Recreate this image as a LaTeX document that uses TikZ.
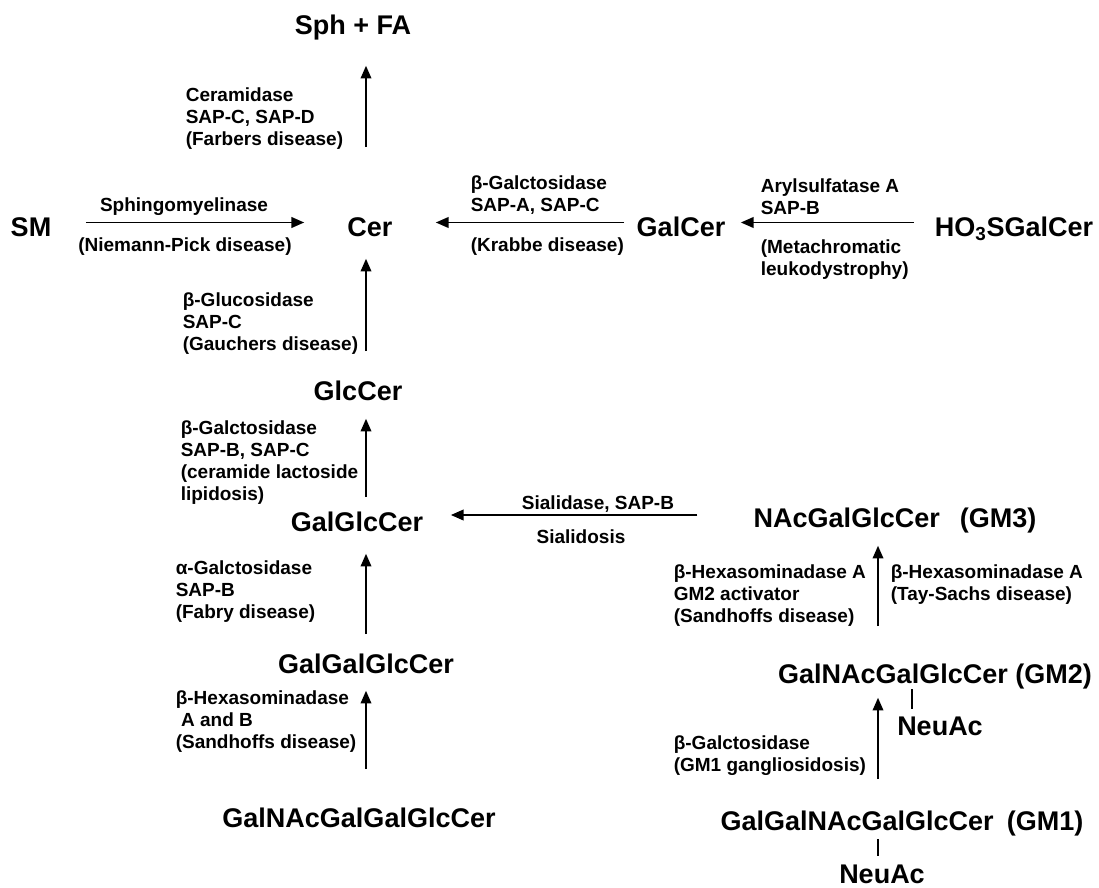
\documentclass[tikz,border=0pt]{standalone}
\usepackage{fontspec}
\setmainfont{Liberation Sans}
\usetikzlibrary{arrows.meta}

\tikzset{every picture/.style={line width=1.2pt}}
\tikzset{
  mol/.style={anchor=base, inner sep=0pt, text height=14.5pt, text depth=4pt, font=\fontsize{20.25}{24}\selectfont\bfseries},
  enz/.style={anchor=west, inner sep=0pt, align=left, font=\fontsize{14.25}{16.5}\selectfont\bfseries},
  enzc/.style={enz, anchor=center, align=center},
  react/.style={-{Triangle[length=9.5pt,width=8pt]}},
  bond/.style={line width=0.8pt}
}

\begin{document}
\begin{tikzpicture}[x=0.75pt,y=0.75pt,yscale=-1,xscale=1]
\useasboundingbox (0,0) rectangle (1099,888);

% columns and rows of the arrows
\coordinate (colL) at (366,0);
\coordinate (colR) at (878,0);
\coordinate (bondA) at (912,0);
\coordinate (rowA) at (0,222.5);
\coordinate (rowB) at (0,515);

% Text Node
\draw (353,35) node [mol] (sph) {Sph + FA};
% Text Node
\draw (31,236) node [mol] (sm) {SM};
% Text Node
\draw (370,236) node [mol] (cer) {Cer};
% Text Node
\draw (681,236) node [mol] (galcer) {GalCer};
% Text Node
\draw (1014,236) node [mol] (hosgalcer) {HO\textsubscript{3}SGalCer};
% Text Node
\draw (358,400) node [mol] (glccer) {GlcCer};
% Text Node
\draw (357,531) node [mol] (galglccer) {GalGlcCer};
% Text Node
\draw (895,527) node [mol] (gmthree) {NAcGalGlcCer\hspace{15pt}(GM3)};
% Text Node
\draw (366,673) node [mol] (galgalglccer) {GalGalGlcCer};
% Text Node
\draw (935,683) node [mol] (gmtwo) {GalNAcGalGlcCer (GM2)};
% Text Node
\draw (940,735) node [mol] (neuactwo) {NeuAc};
% Text Node
\draw (359,827) node [mol] (galnacgalgal) {GalNAcGalGalGlcCer};
% Text Node
\draw (902,830) node [mol] (gmone) {GalGalNAcGalGlcCer\hspace{10pt}(GM1)};
% Text Node
\draw (882,883) node [mol, text depth=0pt] (neuacone) {NeuAc};

% Text Node
\draw (185,119) node [enz] (ceramidase) {Ceramidase\\SAP-C, SAP-D\\(Farbers disease)};
% Text Node
\draw (184,207) node [enzc] (sphase) {Sphingomyelinase};
% Text Node
\draw (185,247) node [enzc] (niemann) {(Niemann-Pick disease)};
% Text Node
\draw (470,195) node [enz] (galctA) {β-Galctosidase\\SAP-A, SAP-C};
% Text Node
\draw (470,247) node [enz] (krabbe) {(Krabbe disease)};
% Text Node
\draw (760,196.5) node [enz] (aryl) {Arylsulfatase A\\SAP-B};
% Text Node
\draw (760,259.5) node [enz] (metachrom) {(Metachromatic\\leukodystrophy)};
% Text Node
\draw (182,324) node [enz] (glucosidase) {β-Glucosidase\\SAP-C\\(Gauchers disease)};
% Text Node
\draw (180,463) node [enz] (galctB) {β-Galctosidase\\SAP-B, SAP-C\\(ceramide lactoside\\lipidosis)};
% Text Node
\draw (598,504) node [enzc] (sialidase) {Sialidase, SAP-B};
% Text Node
\draw (581,537) node [enzc] (sialidosis) {Sialidosis};
% Text Node
\draw (175,591.5) node [enz] (alphagal) {α-Galctosidase\\SAP-B\\(Fabry disease)};
% Text Node
\draw (175,722) node [enz] (hexAB) {β-Hexasominadase\\\hspace*{4pt}A and B\\(Sandhoffs disease)};
% Text Node
\draw (673,595.5) node [enz] (hexAact) {β-Hexasominadase A\\GM2 activator\\(Sandhoffs disease)};
% Text Node
\draw (890,584.5) node [enz] (hexA) {β-Hexasominadase A\\(Tay-Sachs disease)};
% Text Node
\draw (673,756) node [enz] (galctC) {β-Galctosidase\\(GM1 gangliosidosis)};

%Straight Lines
\draw [react, shorten <=51.5pt, shorten >=18.5pt] (cer.north -| colL) -- (sph.south -| colL);
%Straight Lines
\draw [react, shorten <=25.3pt, shorten >=31.9pt] (sm.east |- rowA) -- (cer.west |- rowA);
%Straight Lines
\draw [react, shorten <=8.8pt, shorten >=31.9pt] (galcer.west |- rowA) -- (cer.east |- rowA);
%Straight Lines
\draw [react, shorten <=15.2pt, shorten >=11.1pt] (hosgalcer.west |- rowA) -- (galcer.east |- rowA);
%Straight Lines
\draw [react, shorten <=21.5pt, shorten >=12.5pt] (glccer.north -| colL) -- (cer.south -| colL);
%Straight Lines
\draw [react, shorten <=10.25pt, shorten >=9.5pt] (galglccer.north -| colL) -- (glccer.south -| colL);
%Straight Lines
\draw [react, shorten <=41.6pt, shorten >=20.3pt] (gmthree.west |- rowB) -- (galglccer.east |- rowB);
%Straight Lines
\draw [react, shorten <=14pt, shorten >=12.5pt] (galgalglccer.north -| colL) -- (galglccer.south -| colL);
%Straight Lines
\draw [react, shorten <=28.25pt, shorten >=8.75pt] (galnacgalgal.north -| colL) -- (galgalglccer.south -| colL);
%Straight Lines
\draw [react, shorten <=27.5pt, shorten >=9.5pt] (gmtwo.north -| colR) -- (gmthree.south -| colR);
%Straight Lines
\draw [react, shorten <=23pt, shorten >=6.5pt] (gmone.north -| colR) -- (gmtwo.south -| colR);
%Straight Lines
\draw [bond, shorten >=4.25pt] (gmtwo.south -| bondA) -- (neuactwo.north -| bondA);
%Straight Lines
\draw [bond, shorten <=2pt, shorten >=5pt] (gmone.south -| colR) -- (neuacone.north -| colR);

\end{tikzpicture}
\end{document}
